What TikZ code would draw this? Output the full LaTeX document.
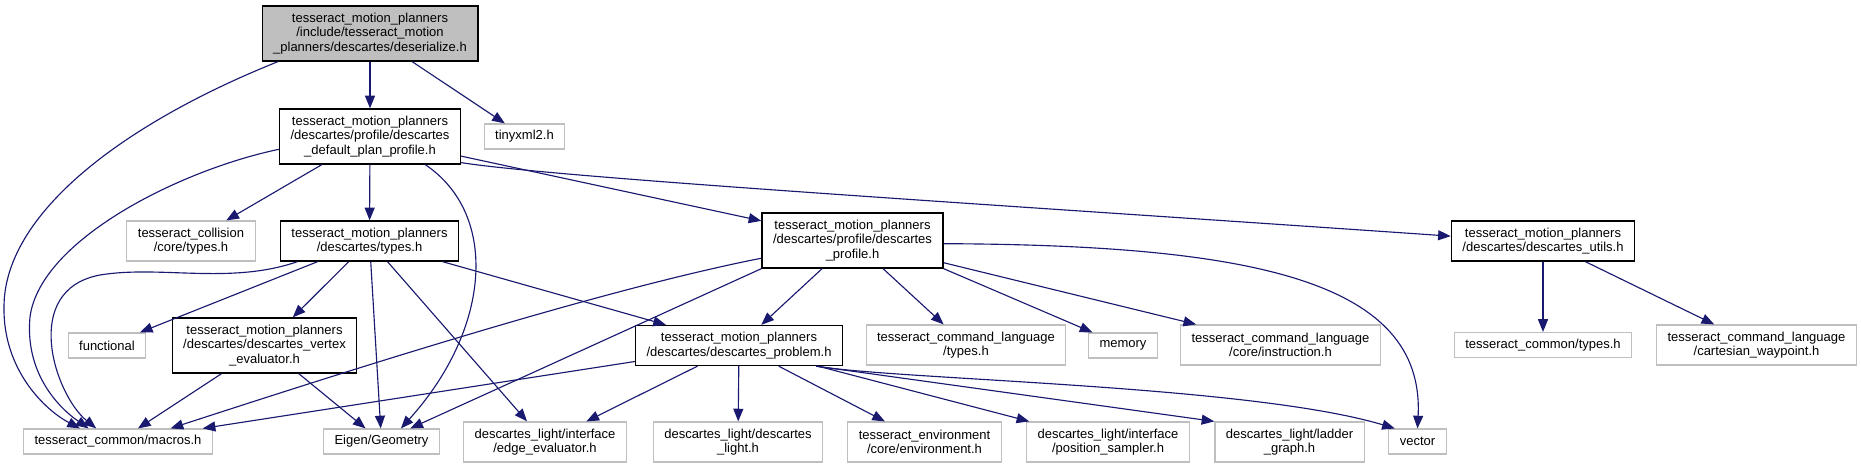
\documentclass[tikz,border=0pt]{standalone}
\usepackage{fontspec}
\setmainfont{Liberation Sans}
\usetikzlibrary{arrows.meta}
\definecolor{edgeblue}{HTML}{191970}
\definecolor{sysgray}{HTML}{BFBFBF}
\tikzset{
  box/.style={font=\fontsize{9.75}{10.9}\selectfont, align=center, inner xsep=8.25pt, inner ysep=1pt, fill=white, line width=0.9pt},
  hdr/.style={box, draw=black, line width=1pt},
  sys/.style={box, draw=sysgray},
  root/.style={hdr, fill=sysgray},
  one/.style={minimum height=18.75pt},
  two/.style={minimum height=30pt},
  three/.style={minimum height=41.25pt},
  dep/.style={draw=edgeblue, line width=0.85pt, -{Triangle[length=9.5pt,width=7.5pt]}},
}
\begin{document}
\begin{tikzpicture}[x=0.75pt,y=-0.75pt]
  \useasboundingbox (0,0) rectangle (1861,468);
  \node[root,three] (deser) at (370,33.5) {tesseract\_motion\_planners\\/include/tesseract\_motion\\\_planners/descartes/deserialize.h};
  \node[hdr,three] (plan) at (370,136.5) {tesseract\_motion\_planners\\/descartes/profile/descartes\\\_default\_plan\_profile.h};
  \node[sys,one] (tinyxml) at (524.5,136.5) {tinyxml2.h};
  \node[sys,two] (collision) at (191,241) {tesseract\_collision\\/core/types.h};
  \node[hdr,two] (types) at (369.5,241) {tesseract\_motion\_planners\\/descartes/types.h};
  \node[hdr,three] (profile) at (852.5,240.5) {tesseract\_motion\_planners\\/descartes/profile/descartes\\\_profile.h};
  \node[hdr,two] (utils) at (1543,241) {tesseract\_motion\_planners\\/descartes/descartes\_utils.h};
  \node[sys,one] (functional) at (107,345.5) {functional};
  \node[hdr,three] (vertex) at (264.5,345.5) {tesseract\_motion\_planners\\/descartes/descartes\_vertex\\\_evaluator.h};
  \node[hdr,two] (problem) at (739,345.5) {tesseract\_motion\_planners\\/descartes/descartes\_problem.h};
  \node[sys,two] (cmdtypes) at (966,345) {tesseract\_command\_language\\/types.h};
  \node[sys,one] (memory) at (1123,345.5) {memory};
  \node[sys,two] (instruction) at (1280.5,345) {tesseract\_command\_language\\/core/instruction.h};
  \node[sys,one] (commontypes) at (1543,345) {tesseract\_common/types.h};
  \node[sys,two] (waypoint) at (1756.5,345) {tesseract\_command\_language\\/cartesian\_waypoint.h};
  \node[sys,one] (macros) at (118,441.5) {tesseract\_common/macros.h};
  \node[sys,one] (eigen) at (381.5,441.5) {Eigen/Geometry};
  \node[sys,two] (edgeeval) at (545,442) {descartes\_light/interface\\/edge\_evaluator.h};
  \node[sys,two] (dlight) at (738,442) {descartes\_light/descartes\\\_light.h};
  \node[sys,two] (environment) at (924.5,442) {tesseract\_environment\\/core/environment.h};
  \node[sys,two] (sampler) at (1108,442) {descartes\_light/interface\\/position\_sampler.h};
  \node[sys,two] (ladder) at (1289.5,442) {descartes\_light/ladder\\\_graph.h};
  \node[sys,one] (vector) at (1417.5,441.5) {vector};

  \draw[dep] (deser.197) .. controls (120,125) and (4,215) .. (4,307) .. controls (3,370) and (45,410) .. (macros.161);
  \draw[dep] (deser) -- (plan);
  \draw[dep] (deser) -- (tinyxml);

  \draw[dep] (plan.188) .. controls (180,170) and (40,240) .. (30,317) .. controls (25,370) and (55,405) .. (macros.156);
  \draw[dep] (plan) -- (collision);
  \draw[dep] (plan) -- (types);
  \draw[dep] (plan.333) .. controls (500,215) and (490,330) .. (eigen.34);
  \draw[dep] (plan) -- (profile);
  \draw[dep] (plan.344) .. controls (560,178) and (1000,205) .. (utils.177);

  \draw[dep] (types.196) .. controls (230,285) and (160,265) .. (100,275) .. controls (20,290) and (55,395) .. (macros.149);
  \draw[dep] (types) -- (functional);
  \draw[dep] (types) -- (vertex);
  \draw[dep] (types) -- (eigen);
  \draw[dep] (types) -- (edgeeval);
  \draw[dep] (types) -- (problem);

  \draw[dep] (vertex) -- (macros);
  \draw[dep] (vertex) -- (eigen);

  \draw[dep] (profile.191) .. controls (600,290) and (350,370) .. (macros.14);
  \draw[dep] (profile.south west) -- (eigen);
  \draw[dep] (profile) -- (problem);
  \draw[dep] (profile) -- (cmdtypes);
  \draw[dep] (profile.south east) -- (memory);
  \draw[dep] (profile) -- (instruction);
  \draw[dep] (profile.358) .. controls (1250,245) and (1425,280) .. (vector.north);

  \draw[dep] (problem) -- (macros);
  \draw[dep] (problem) -- (edgeeval);
  \draw[dep] (problem) -- (dlight);
  \draw[dep] (problem) -- (environment);
  \draw[dep] (problem) -- (sampler);
  \draw[dep] (problem.345) -- (ladder.north west);
  \draw[dep] (problem.345) .. controls (900,380) and (1250,385) .. (vector.150);

  \draw[dep] (utils) -- (commontypes);
  \draw[dep] (utils) -- (waypoint);
\end{tikzpicture}
\end{document}
